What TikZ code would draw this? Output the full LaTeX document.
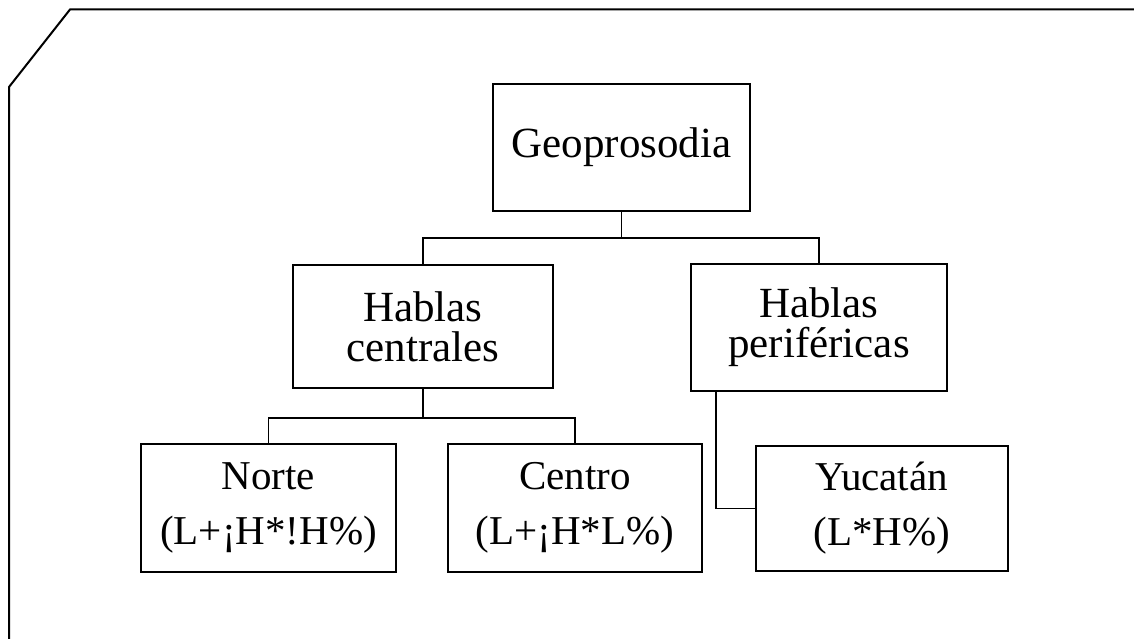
\documentclass[tikz,border=0pt]{standalone}
\usepackage{fontspec}
\setmainfont{Liberation Serif}
\usetikzlibrary{calc}
\tikzset{
  box/.style={draw=black, line width=1.8pt, rectangle, inner sep=0pt, align=center,
    font=\fontsize{43}{40}\selectfont},
  leafbox/.style={box, font=\fontsize{41}{55}\selectfont},
  link/.style={draw=black, line width=1.5pt},
  frame/.style={draw=black, line width=2pt, line join=miter}
}
\begin{document}
\begin{tikzpicture}[x=1pt,y=-1pt]
  \useasboundingbox (0,0) rectangle (1134,639);
  % outer frame with clipped top-left corner
  \draw[frame] (9,650) -- (9,87) -- (70,9.5) -- (1145,9.5);

  % tree nodes
  \node[box, minimum width=257pt, minimum height=127pt] (geo) at (621.5,147.5) {Geoprosodia};
  \node[box, minimum width=260pt, minimum height=123pt] (hc) at (423,326.5) {Hablas\\centrales};
  \node[box, minimum width=256pt, minimum height=127pt] (hp) at (819,327.5) {Hablas\\periféricas};
  \node[leafbox, minimum width=255pt, minimum height=128pt] (norte) at (268.5,508) {Norte\\(L+¡H*!H\%)};
  \node[leafbox, minimum width=254pt, minimum height=128pt] (centro) at (575,508) {Centro\\(L+¡H*L\%)};
  \node[leafbox, minimum width=252pt, minimum height=125pt] (yuc) at (882,508.5) {Yucatán\\(L*H\%)};

  % connectors
  \coordinate (split1) at (geo.south |- 0,238);
  \coordinate (split2) at (hc.south |- 0,418);
  \draw[link] (geo.south) -- (split1);
  \draw[link] (hc.north) |- (split1) -| (hp.north);
  \draw[link] (hc.south) -- (split2);
  \draw[link] (norte.north) |- (split2) -| (centro.north);
  \draw[link] ([xshift=26pt]hp.south west) |- (yuc.west);
\end{tikzpicture}
\end{document}
